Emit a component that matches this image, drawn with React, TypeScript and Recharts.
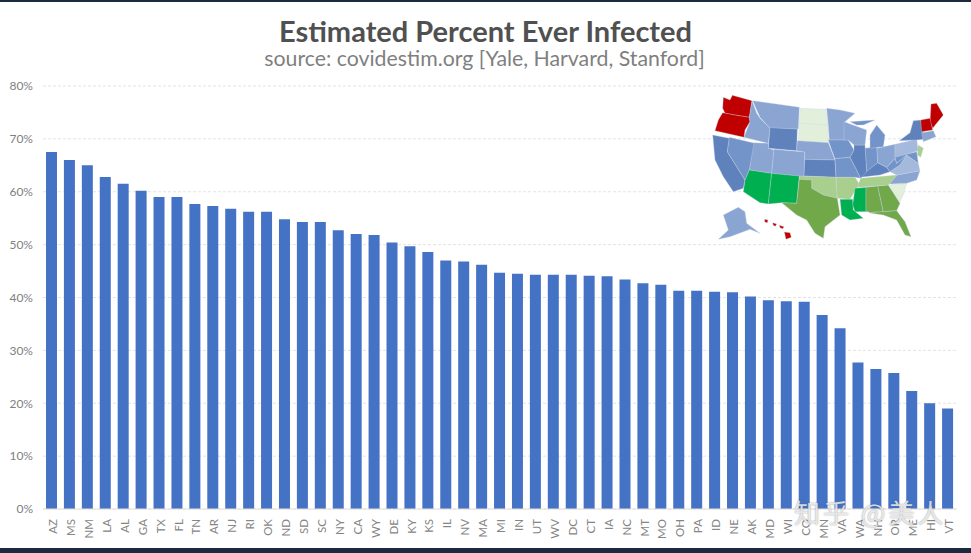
import React from 'react';
import { BarChart, Bar, XAxis, YAxis, CartesianGrid } from 'recharts';

const states = ['AZ','MS','NM','LA','AL','GA','TX','FL','TN','AR','NJ','RI','OK','ND','SD','SC','NY','CA','WY','DE','KY','KS','IL','NV','MA','MI','IN','UT','WV','DC','CT','IA','NC','MT','MO','OH','PA','ID','NE','AK','MD','WI','CO','MN','VA','WA','NH','OR','ME','HI','VT'];
const infected = [67.5,66,65,62.8,61.5,60.2,59,59,57.7,57.3,56.8,56.2,56.2,54.8,54.3,54.3,52.7,52,51.8,50.4,49.7,48.6,47,46.8,46.2,44.7,44.5,44.3,44.3,44.3,44.1,44,43.4,42.7,42.4,41.3,41.3,41.1,41,40.2,39.5,39.3,39.2,36.7,34.2,27.7,26.5,25.7,22.3,20,19];
const yTicks = [0,10,20,30,40,50,60,70,80];

const data = states.map((state, i) => ({ state, value: infected[i] }));

const FONT = 'Lato, "Open Sans", sans-serif';

// rough outline of the inset map, in its own 780x510 box
const RED = '#c00000', BRIGHT = '#00b050', GREEN = '#70a84a', LIGHT = '#a9cf8e', PALE = '#e2efda';
const B1 = '#5f82bd', B2 = '#7394c8', B3 = '#8aa5d2', B4 = '#a5b9dc';
const mapShapes: [string, string][] = [
  [RED, '70,52 90,60 97,46 156,62 148,112 105,105 75,100 68,85'],
  [RED, '68,98 105,105 148,112 150,125 135,150 132,172 45,152 55,120'],
  [B1, '38,165 88,175 82,215 135,300 130,325 100,335 70,290 45,240'],
  [B2, '88,172 165,190 148,270 135,300 82,215'],
  [B3, '156,62 170,100 180,115 210,145 205,190 132,172 150,125 148,112'],
  [B3, '158,62 298,82 295,147 210,145 180,112'],
  [B1, '210,143 292,147 290,212 205,205'],
  [B3, '162,188 205,190 205,205 222,210 215,280 148,270'],
  [B3, '222,208 314,216 312,290 215,280'],
  [BRIGHT, '148,270 215,280 205,372 180,368 130,335 135,300'],
  [BRIGHT, '215,280 298,288 290,370 245,368 205,372'],
  [PALE, '300,85 378,88 385,135 298,130'],
  [PALE, '298,130 385,135 385,190 295,182'],
  [B3, '292,182 385,188 405,240 314,238 314,216 290,212'],
  [B1, '314,238 405,240 408,292 312,288'],
  [LIGHT, '298,288 408,292 412,355 370,345 335,325 335,300 298,298'],
  [GREEN, '298,298 335,300 335,325 370,345 412,355 420,405 375,440 370,475 345,460 320,420 290,405 245,368 290,370'],
  [B3, '380,85 420,90 465,100 435,125 432,180 388,180 385,135'],
  [B2, '385,180 445,180 462,210 450,232 405,236 395,210'],
  [B2, '405,236 450,232 470,270 482,295 465,292 408,292'],
  [LIGHT, '408,292 465,292 478,312 450,358 412,355'],
  [BRIGHT, '420,358 458,358 460,390 490,415 450,420 425,405'],
  [BRIGHT, '465,325 498,322 498,395 465,395 458,375'],
  [GREEN, '498,322 533,318 550,395 510,398 505,395 498,395'],
  [GREEN, '533,318 565,315 600,370 590,392 550,395'],
  [GREEN, '505,398 590,392 615,425 633,470 615,465 590,420 550,405'],
  [PALE, '565,315 620,310 610,345 600,365'],
  [B3, '568,312 590,285 660,272 650,300 620,310'],
  [LIGHT, '472,322 482,295 592,285 565,315 500,320'],
  [B1, '480,292 500,272 533,248 560,262 570,275 540,285'],
  [B4, '570,275 600,255 620,225 655,250 660,272 590,285'],
  [B2, '560,262 585,235 590,250 620,225 600,255 570,275'],
  [B3, '530,205 585,193 585,235 560,262 533,248'],
  [B2, '495,205 530,200 533,248 500,275'],
  [B1, '462,195 495,195 500,275 482,295 470,270 450,232 462,210'],
  [B3, '432,125 500,150 495,195 462,195 445,180 432,180'],
  [B2, '510,165 530,135 555,165 550,200 510,205'],
  [B2, '450,125 525,120 490,135 470,135'],
  [B4, '585,193 650,178 655,212 585,235'],
  [B1, '598,182 630,158 640,122 662,120 672,178 650,180'],
  [LIGHT, '655,195 670,205 662,232 652,225'],
  [B2, '585,232 650,215 655,250 620,225 590,250'],
  [B3, '665,158 700,152 708,170 670,185'],
  [RED, '693,72 710,70 730,105 698,145 690,125'],
  [RED, '662,120 690,115 698,150 665,155'],
  [B3, '70,405 115,382 135,395 140,430 180,460 150,448 90,470 55,478 85,450'],
  [RED, '253,456 270,458 274,472 258,478'],
  [RED, '194,418 204,420 202,428 194,426'],
  [RED, '218,428 230,432 226,439 220,436'],
  [RED, '238,436 252,440 248,446 240,443'],
];

export default function App() {
  return (
    <div style={{ position: 'absolute', left: 0, top: 0, width: 971, height: 553, background: '#fff', overflow: 'hidden', fontFamily: FONT }}>
      <div style={{ position: 'absolute', left: 0, top: 0, width: 971, height: 2, background: '#1b2a3f' }} />
      <div style={{ position: 'absolute', left: 0, top: 548, width: 971, height: 5, background: '#1b2a3f' }} />
      <div style={{ position: 'absolute', left: 0, top: 17, width: 971, textAlign: 'center', fontSize: 29, lineHeight: '28px', fontWeight: 700, color: '#505050' }}>
        Estimated Percent Ever Infected
      </div>
      <div style={{ position: 'absolute', left: 0, top: 48, width: 969, textAlign: 'center', fontSize: 21.3, lineHeight: '21px', color: '#7f7f7f' }}>
        source: covidestim.org [Yale, Harvard, Stanford]
      </div>
      <div style={{ position: 'absolute', left: 0, top: 0 }}>
        <BarChart width={971} height={553} data={data} margin={{ top: 86, right: 14, bottom: 0, left: 0 }} barSize={11}>
          <CartesianGrid vertical={false} stroke="#e3e3e3" strokeDasharray="3 2" />
          <XAxis
            dataKey="state"
            interval={0}
            axisLine={{ stroke: '#e6dfd8' }}
            tickLine={false}
            angle={-90}
            textAnchor="end"
            height={44}
            tick={{ fill: '#858585', fontSize: 11.5, fontFamily: FONT, dx: -3, dy: 2 }}
          />
          <YAxis
            domain={[0, 80]}
            ticks={yTicks}
            width={43}
            axisLine={false}
            tickLine={false}
            tickFormatter={(v: number) => `${v}%`}
            tick={{ fill: '#7f7f7f', fontSize: 12, fontFamily: FONT, dx: -2 }}
          />
          <Bar dataKey="value" fill="#4472c4" isAnimationActive={false} />
        </BarChart>
      </div>
      <svg style={{ position: 'absolute', left: 700, top: 80 }} width={260} height={170} viewBox="0 0 780 510">
        {mapShapes.map(([fill, points], i) => (
          <polygon key={i} points={points} fill={fill} stroke="#c8d4e8" strokeWidth={1} />
        ))}
      </svg>
      <div style={{ position: 'absolute', left: 794, top: 493, fontSize: 26, lineHeight: '38px', letterSpacing: 3, color: 'rgba(255,255,255,0.75)', textShadow: '0 0 1.5px rgba(90,90,90,0.7)', fontFamily: '"Noto Sans CJK SC"', whiteSpace: 'nowrap' }}>
        知乎 @美人
      </div>
    </div>
  );
}
